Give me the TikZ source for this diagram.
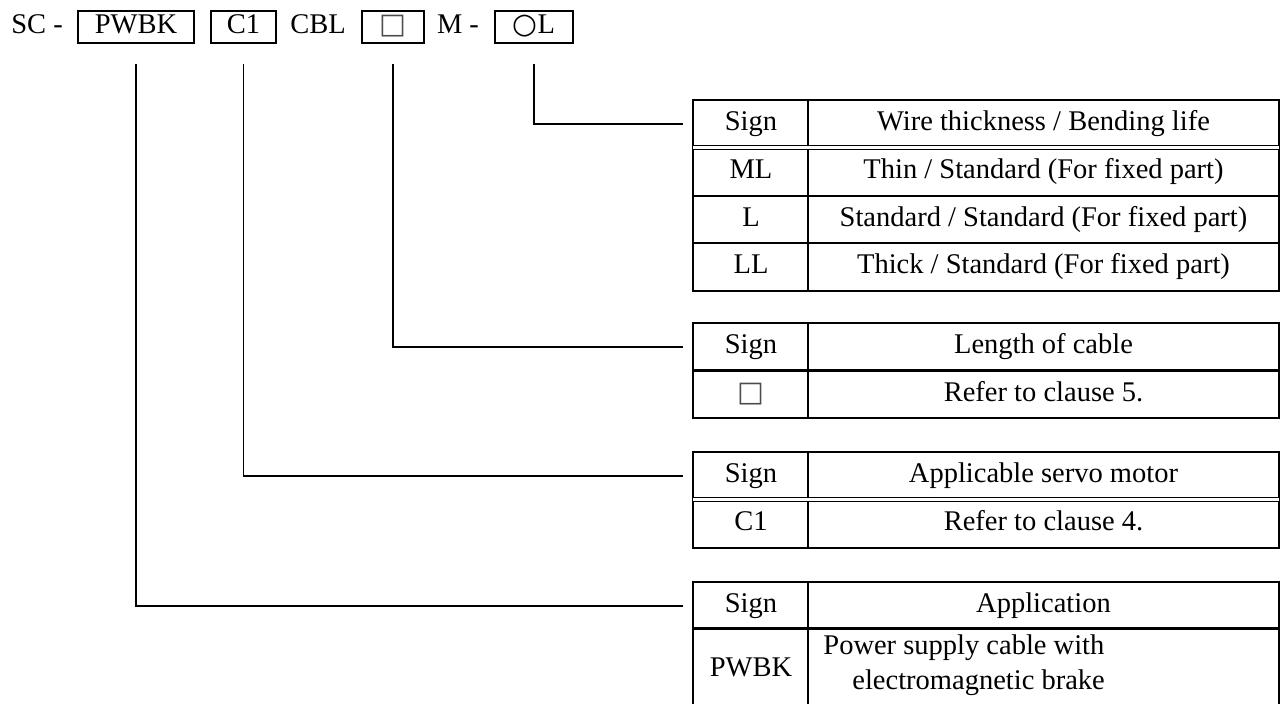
\documentclass[tikz,border=0pt]{standalone}
\usepackage{fontspec}
\setmainfont{Liberation Serif}
\newfontfamily\symfont{DejaVu Sans}
\usetikzlibrary{calc}

\tikzset{
    box/.style={draw, line width=1pt, minimum height=16pt, inner sep=0pt, text height=0.68em, text depth=0pt},
    cell/.style={inner sep=0pt, text height=0.68em, text depth=0pt},
    link/.style={line width=0.75pt, shorten <=10pt, shorten >=5pt},
}

\begin{document}
\begin{tikzpicture}[x=0.5pt, y=-0.5pt, font=\fontsize{14.25}{17}\selectfont]
                \useasboundingbox (0,0) rectangle (1281,704);

                % code
                \node[cell, anchor=west] (SC) at (11,27) {SC -};
                \node[cell] (CBL) at (318,27) {CBL};
                \node[cell] (M) at (458,27) {M -};
                \foreach \a/\x/\w/\t in {1/136/58/PWBK,2/243.5/32.5/C1,3/393/31/{\symfont\color{black!70}□},4/534/39/{\symfont ○}L}
                {
                    \node[box, minimum width=\w pt] (B\a) at (\x,27) {\t};
                }

                % tables
                \foreach \a/\t/\b in {1/100/291,2/323/418,3/452/548,4/582/712}
                {
                    \coordinate (T\a L) at (693,\t+24);
                    \draw[line width=1pt] (693,\t) rectangle (1279,\b);
                    \draw[line width=0.75pt] (808,\t) -- (808,\b);
                }
                \foreach \y in {148,500}
                    \draw[line width=0.5pt, double, double distance=1.5pt] (693,\y) -- (1279,\y);
                \foreach \y in {371,629}
                    \draw[line width=1.5pt] (693,\y) -- (1279,\y);
                \foreach \y in {196,243}
                    \draw[line width=0.75pt] (693,\y) -- (1279,\y);

                \draw[link] (B4.south) |- (T1L);
                \draw[link] (B3.south) |- (T2L);
                \draw[link] (B2.south) |- (T3L);
                \draw[link] (B1.south) |- (T4L);

                \node[cell] (T1S0) at (751,124) {Sign};
                \node[cell] (T1D0) at (1043.5,124) {Wire thickness / Bending life};
                \node[cell] (T1S1) at (751,172) {ML};
                \node[cell] (T1D1) at (1043.5,172) {Thin / Standard (For fixed part)};
                \node[cell] (T1S2) at (751,219.5) {L};
                \node[cell] (T1D2) at (1043.5,219.5) {Standard / Standard (For fixed part)};
                \node[cell] (T1S3) at (751,267) {LL};
                \node[cell] (T1D3) at (1043.5,267) {Thick / Standard (For fixed part)};

                \node[cell] (T2S0) at (751,347) {Sign};
                \node[cell] (T2D0) at (1043.5,347) {Length of cable};
                \node[cell] (T2S1) at (751,394.5) {\symfont\color{black!70}□};
                \node[cell] (T2D1) at (1043.5,394.5) {Refer to clause 5.};

                \node[cell] (T3S0) at (751,476) {Sign};
                \node[cell] (T3D0) at (1043.5,476) {Applicable servo motor};
                \node[cell] (T3S1) at (751,524) {C1};
                \node[cell] (T3D1) at (1043.5,524) {Refer to clause 4.};

                \node[cell] (T4S0) at (751,605.5) {Sign};
                \node[cell] (T4D0) at (1043.5,605.5) {Application};
                \node[cell] (T4S1) at (751,670) {PWBK};
                \node[cell, anchor=west] (T4D1) at (823,648) {Power supply cable with};
                \node[cell, anchor=west] (T4D2) at (852,683) {electromagnetic brake};
            \end{tikzpicture}
\end{document}
